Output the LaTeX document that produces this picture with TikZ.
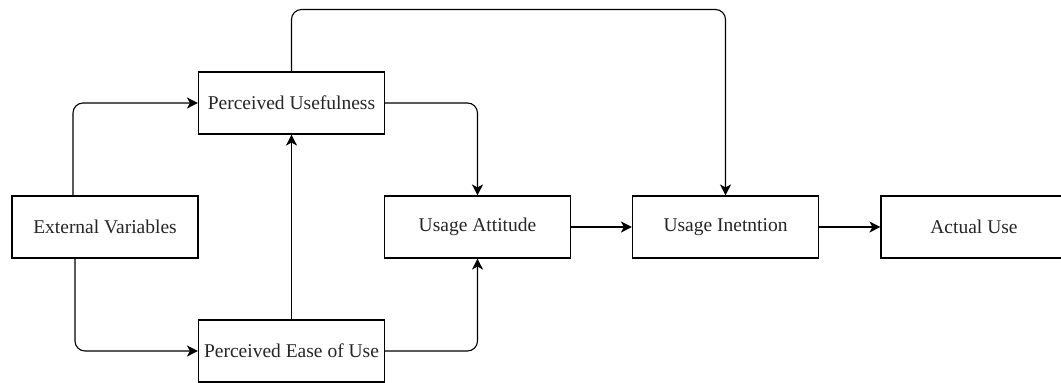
\documentclass[tikz,border=0pt]{standalone}
\usepackage{fontspec}
\setmainfont{Liberation Serif}
\usetikzlibrary{arrows.meta}
\begin{document}
\begin{tikzpicture}[x=1pt,y=-1pt,
  box/.style={draw, line width=1.1pt, rectangle, minimum width=186pt, minimum height=62pt, inner sep=0pt, font=\fontsize{19.5}{22}\selectfont, text=black!85},
  arr/.style={draw, line width=1.1pt, rounded corners=10pt, -{Stealth[length=11pt,width=11pt,inset=3pt]}}]
\useasboundingbox (0,0) rectangle (1061,383);
\clip (0,0) rectangle (1061,383);
\fill[white] (0,0) rectangle (1061,383);
\node[box] (EV) at (105,227) {External Variables};
\node[box] (PU) at (291.5,103) {Perceived Usefulness};
\node[box] (PE) at (291.5,351) {Perceived Ease of Use};
\node[box] (UA) at (477.5,227) {Usage Attitude};
\node[box] (UI) at (725.5,227) {Usage Inetntion};
\node[box] (AU) at (974,227) {Actual Use};
\coordinate (evt) at ([xshift=-32pt]EV.north);
\coordinate (evb) at ([xshift=-30pt]EV.south);
\coordinate (topl) at (PU.north |- 0,9.5);
\coordinate (topr) at (UI.north |- 0,9.5);
\draw[arr] (evt) |- (PU.west);
\draw[arr] (evb) |- (PE.west);
\draw[arr] (PE.north) -- (PU.south);
\draw[arr] (PU.east) -| (UA.north);
\draw[arr] (PE.east) -| (UA.south);
\draw[arr] (PU.north) -- (topl) -- (topr) -- (UI.north);
\draw[arr] (UA.east) -- (UI.west);
\draw[arr] (UI.east) -- (AU.west);
\end{tikzpicture}
\end{document}
